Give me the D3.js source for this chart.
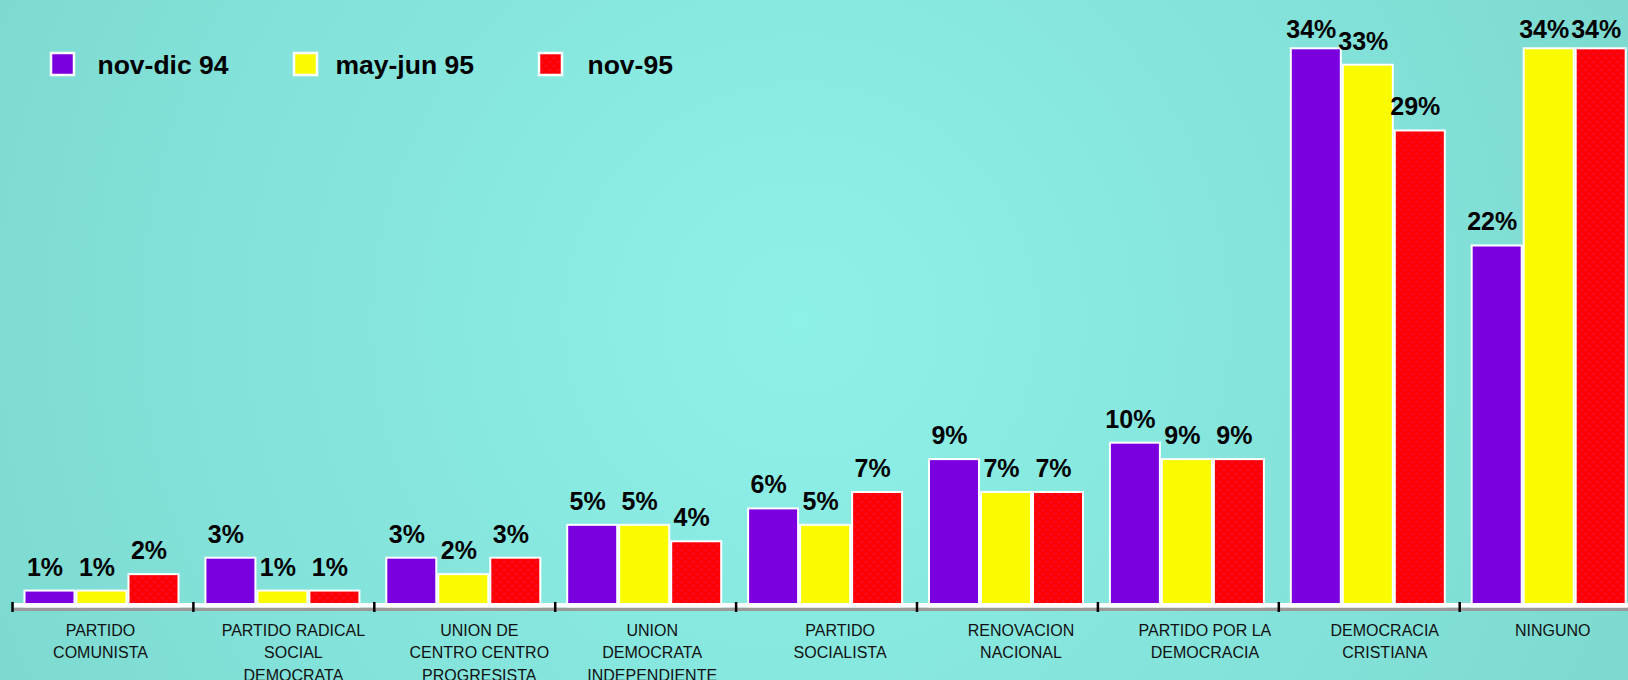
<!DOCTYPE html>
<html>
<head>
<meta charset="utf-8">
<script src="https://cdn.jsdelivr.net/npm/d3@7"></script>
<style>
  html, body { margin: 0; padding: 0; overflow: hidden; }
  svg { display: block; font-family: Arial, "Liberation Sans", sans-serif; }
</style>
</head>
<body>
<svg width="1628" height="680"></svg>
<script>
//Categories of the chart (line breaks as in the original labels)
let categories = [
  "PARTIDO\nCOMUNISTA",
  "PARTIDO RADICAL\nSOCIAL\nDEMOCRATA",
  "UNION DE\nCENTRO CENTRO\nPROGRESISTA",
  "UNION\nDEMOCRATA\nINDEPENDIENTE",
  "PARTIDO\nSOCIALISTA",
  "RENOVACION\nNACIONAL",
  "PARTIDO POR LA\nDEMOCRACIA",
  "DEMOCRACIA\nCRISTIANA",
  "NINGUNO"
];
//Series names and values (percent)
let seriesNames = ["nov-dic 94", "may-jun 95", "nov-95"];
let novDic94 = [1, 3, 3, 5, 6, 9, 10, 34, 22];
let mayJun95 = [1, 1, 2, 5, 5, 7, 9, 33, 34];
let nov95 = [2, 1, 3, 4, 7, 7, 9, 29, 34];
let seriesValues = [novDic94, mayJun95, nov95];
let seriesColors = ["#7b00e0", "#fafa00", "url(#redDots)"];

//Layout: each category label box sits a bit differently under its group
let labelDx = [88, 100, 105, 97, 104, 104, 107, 106, 93];
let legendSquareX = [50, 293, 538];
let legendTextX = [97.5, 335.5, 587.5];

let svg = d3.select("svg"),
    width = +svg.attr("width"),
    height = +svg.attr("height");

let defs = svg.append("defs");

//Background radial gradient, lighter in the middle
let grad = defs.append("radialGradient")
    .attr("id", "bg")
    .attr("gradientUnits", "userSpaceOnUse")
    .attr("cx", 800).attr("cy", 320).attr("r", 880);
grad.append("stop").attr("offset", "0%").attr("stop-color", "#8ef1e9");
grad.append("stop").attr("offset", "100%").attr("stop-color", "#7ddad1");

//Dotted texture for the red series
let pat = defs.append("pattern")
    .attr("id", "redDots")
    .attr("patternUnits", "userSpaceOnUse")
    .attr("width", 8).attr("height", 8);
pat.append("rect").attr("width", 8).attr("height", 8).attr("fill", "#ff0000");
pat.append("circle").attr("cx", 2).attr("cy", 2).attr("r", 1.8).attr("fill", "#f50a22");
pat.append("circle").attr("cx", 6).attr("cy", 6).attr("r", 1.8).attr("fill", "#f50a22");

svg.append("rect")
    .attr("width", width).attr("height", height)
    .attr("fill", "url(#bg)");

//Scales
let x0 = d3.scaleBand().domain(categories).range([12.5, 12.5 + 9 * 180.9]).padding(0);
let x1 = d3.scaleBand().domain([0, 1, 2]).range([11, 167]).padding(0);
let y = d3.scaleLinear().domain([0, 34]).range([607, 48.3]);

//Bars
let groups = svg.selectAll(".group")
    .data(categories)
    .enter().append("g")
    .attr("class", "group")
    .attr("transform", d => "translate(" + x0(d) + ",0)");

groups.selectAll("rect")
    .data((d, ci) => seriesValues.map((s, si) => ({si: si, v: s[ci]})))
    .enter().append("rect")
    .attr("x", d => x1(d.si) + 1)
    .attr("width", x1.bandwidth() - 2)
    .attr("y", d => y(d.v))
    .attr("height", d => y(0) - y(d.v))
    .attr("fill", d => seriesColors[d.si])
    .attr("stroke", "#ffffff")
    .attr("stroke-width", 2);

//Value labels above bars (kept inside the top of the plot)
groups.selectAll(".val")
    .data((d, ci) => seriesValues.map((s, si) => ({si: si, v: s[ci]})))
    .enter().append("text")
    .attr("class", "val")
    .attr("x", d => x1(d.si) + x1.bandwidth() / 2 - 4.5)
    .attr("y", d => Math.max(y(d.v) - 15, 37.5))
    .attr("text-anchor", "middle")
    .attr("font-size", 25)
    .attr("font-weight", "bold")
    .attr("fill", "#000")
    .text(d => d.v + "%");

//Axis line (white with grey shadow)
svg.append("rect")
    .attr("x", 14).attr("y", 607.5)
    .attr("width", width - 14).attr("height", 3.5)
    .attr("fill", "#9a9a9a");
svg.append("rect")
    .attr("x", 14).attr("y", 603)
    .attr("width", width - 14).attr("height", 4.5)
    .attr("fill", "#ffffff");

//Tick marks at the group boundaries
let tickPos = categories.map(c => x0(c)).concat([x0.range()[1]]);
svg.selectAll(".tick")
    .data(tickPos)
    .enter().append("line")
    .attr("class", "tick")
    .attr("x1", d => d).attr("x2", d => d)
    .attr("y1", 602).attr("y2", 612)
    .attr("stroke", "#000")
    .attr("stroke-width", 2.5);

//Category labels
let catLabels = svg.selectAll(".cat")
    .data(categories)
    .enter().append("text")
    .attr("class", "cat")
    .attr("text-anchor", "middle")
    .attr("font-size", 16)
    .attr("fill", "#111");
catLabels.selectAll("tspan")
    .data((d, ci) => d.split("\n").map(t => ({t: t, c: d, ci: ci})))
    .enter().append("tspan")
    .attr("x", d => x0(d.c) + labelDx[d.ci])
    .attr("y", (d, i) => 636 + i * 22.3)
    .text(d => d.t);

//Legend
let legend = svg.selectAll(".legend")
    .data(seriesNames)
    .enter().append("g")
    .attr("class", "legend");
legend.append("rect")
    .attr("x", (d, i) => legendSquareX[i] + 1).attr("y", 53)
    .attr("width", 23).attr("height", 22)
    .attr("fill", (d, i) => seriesColors[i])
    .attr("stroke", "#ffffff")
    .attr("stroke-width", 2.5);
legend.append("text")
    .attr("x", (d, i) => legendTextX[i])
    .attr("y", 74)
    .attr("font-size", 26.5)
    .attr("font-weight", "bold")
    .attr("fill", "#000")
    .text(d => d);
</script>
</body>
</html>
